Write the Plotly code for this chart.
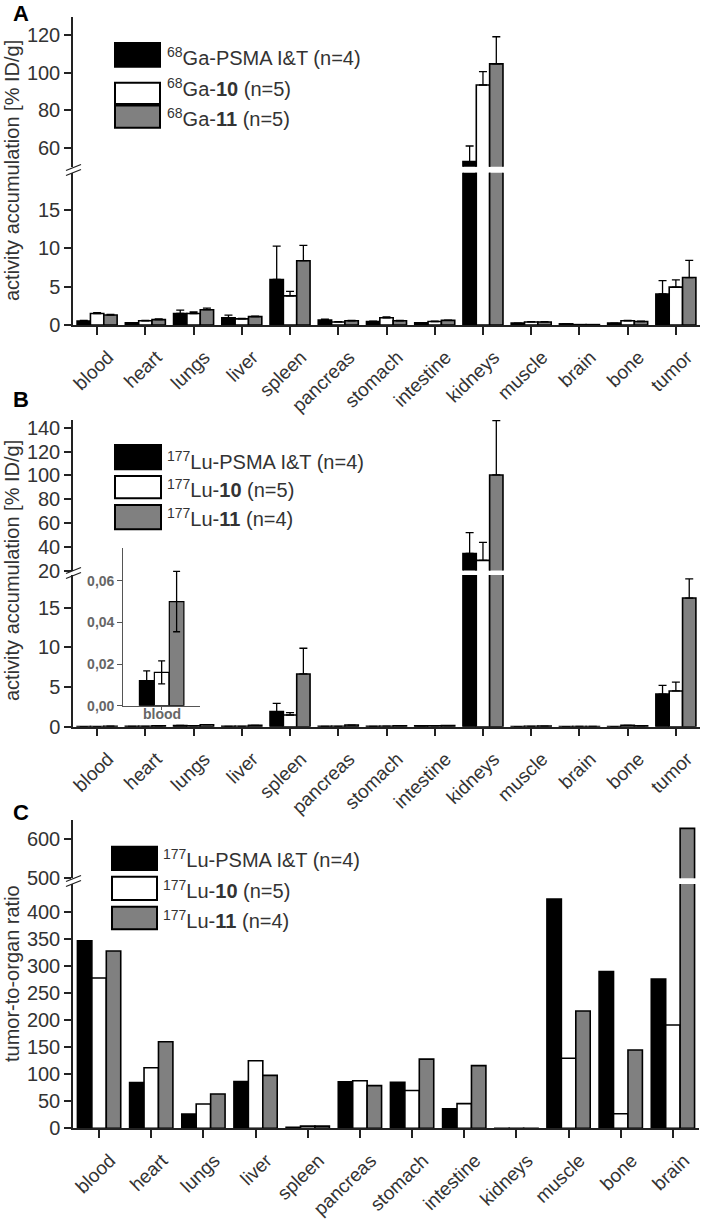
import plotly.graph_objects as go

W, H = 709, 1219
def xp(px): return px / W
def yp(py): return 1 - py / H

# ---------------- data ----------------
organs_ab = ["blood", "heart", "lungs", "liver", "spleen", "pancreas", "stomach",
             "intestine", "kidneys", "muscle", "brain", "bone", "tumor"]
organs_c = ["blood", "heart", "lungs", "liver", "spleen", "pancreas", "stomach",
            "intestine", "kidneys", "muscle", "bone", "brain"]

# Panel A: 68Ga, %ID/g
ga_psma = [0.5, 0.3, 1.5, 0.95, 5.95, 0.65, 0.45, 0.3, 52.7, 0.25, 0.15, 0.25, 4.05]
ga_psma_err = [0.1, 0.0, 0.45, 0.35, 4.35, 0.1, 0.05, 0.0, 8.3, 0.0, 0.0, 0.0, 1.75]
ga_10 = [1.5, 0.55, 1.5, 0.8, 3.8, 0.4, 0.95, 0.45, 93.4, 0.4, 0.05, 0.55, 4.95]
ga_10_err = [0.1, 0.05, 0.2, 0.05, 0.6, 0.05, 0.1, 0.05, 7.1, 0.05, 0.0, 0.05, 0.95]
ga_11 = [1.3, 0.7, 2.0, 1.1, 8.4, 0.55, 0.55, 0.6, 104.6, 0.4, 0.05, 0.45, 6.2]
ga_11_err = [0.1, 0.1, 0.2, 0.05, 2.0, 0.05, 0.05, 0.05, 14.4, 0.05, 0.0, 0.05, 2.25]

# Panel B: 177Lu, %ID/g
lu_psma = [0.012, 0.048, 0.155, 0.047, 1.9, 0.048, 0.048, 0.114, 34.3, 0.0097, 0.015, 0.014, 4.1]
lu_psma_err = [0.005, 0.0, 0.0, 0.0, 1.04, 0.0, 0.0, 0.0, 17.6, 0.0, 0.0, 0.0, 1.1]
lu_10 = [0.016, 0.04, 0.1, 0.036, 1.47, 0.051, 0.064, 0.098, 28.5, 0.035, 0.024, 0.167, 4.5]
lu_10_err = [0.005, 0.0, 0.0, 0.0, 0.3, 0.0, 0.0, 0.0, 15.2, 0.0, 0.0, 0.0, 1.1]
lu_11 = [0.05, 0.1, 0.25, 0.165, 6.64, 0.205, 0.127, 0.14, 100.3, 0.075, 0.026, 0.11, 16.2]
lu_11_err = [0.015, 0.0, 0.0, 0.0, 3.24, 0.0, 0.0, 0.0, 45.7, 0.0, 0.0, 0.0, 2.4]

# Inset (blood, 177Lu) symmetric SD
inset_cat = ["blood"]
inset_psma, inset_psma_err = [0.012], [0.0047]
inset_10, inset_10_err = [0.016], [0.0055]
inset_11, inset_11_err = [0.050], [0.0145]

# Panel C: tumor-to-organ ratio
ratio_psma = [347, 84.6, 26.5, 86.4, 2, 86, 85, 36, 0.12, 424, 290, 276]
ratio_10 = [278, 112, 45, 125, 4, 88, 70, 45.7, 0.16, 129.6, 27, 191]
ratio_11 = [328, 160, 63.6, 98, 4, 79, 128, 116, 0.16, 217, 145, 628]

legend_a = ["<sup>68</sup>Ga-PSMA I&amp;T (n=4)", "<sup>68</sup>Ga-<b>10</b> (n=5)",
            "<sup>68</sup>Ga-<b>11</b> (n=5)"]
legend_b = ["<sup>177</sup>Lu-PSMA I&amp;T (n=4)", "<sup>177</sup>Lu-<b>10</b> (n=5)",
            "<sup>177</sup>Lu-<b>11</b> (n=4)"]
legend_c = ["<sup>177</sup>Lu-PSMA I&amp;T (n=4)", "<sup>177</sup>Lu-<b>10</b> (n=5)",
            "<sup>177</sup>Lu-<b>11</b> (n=4)"]

COLORS = ["black", "white", "#808080"]
FONT = "Liberation Sans, Arial, sans-serif"
AXC = "#222222"
TXC = "#333333"

fig = go.Figure()

def add_bars(xa, ya, cats, vals, errs, color, lw=1.6, sym=False, **kw):
    ey = None
    if errs is not None:
        if sym:
            ey = dict(type="data", array=errs, symmetric=True, color="black",
                      thickness=1.3, width=3.5)
        else:
            ey = dict(type="data", array=errs, arrayminus=[0] * len(errs),
                      symmetric=False, color="black", thickness=1.3, width=4)
    fig.add_trace(go.Bar(x=cats, y=vals, xaxis=xa, yaxis=ya,
                         marker=dict(color=color, line=dict(color="black", width=lw)),
                         error_y=ey, showlegend=False, hoverinfo="skip", **kw))

# Panel A (lower + upper)
for ya in ["y", "y2"]:
    add_bars("x", ya, organs_ab, ga_psma, ga_psma_err, COLORS[0])
    add_bars("x", ya, organs_ab, ga_10, ga_10_err, COLORS[1])
    add_bars("x", ya, organs_ab, ga_11, ga_11_err, COLORS[2])
# Panel B
for ya in ["y3", "y4"]:
    add_bars("x2", ya, organs_ab, lu_psma, lu_psma_err, COLORS[0])
    add_bars("x2", ya, organs_ab, lu_10, lu_10_err, COLORS[1])
    add_bars("x2", ya, organs_ab, lu_11, lu_11_err, COLORS[2])
# Inset
add_bars("x3", "y5", inset_cat, inset_psma, inset_psma_err, COLORS[0], lw=1.2, sym=True,
         offset=-0.29, width=0.19)
add_bars("x3", "y5", inset_cat, inset_10, inset_10_err, COLORS[1], lw=1.2, sym=True,
         offset=-0.095, width=0.19)
add_bars("x3", "y5", inset_cat, inset_11, inset_11_err, COLORS[2], lw=1.2, sym=True,
         offset=0.1, width=0.19)
# Panel C
for ya in ["y6", "y7"]:
    add_bars("x4", ya, organs_c, ratio_psma, None, COLORS[0])
    add_bars("x4", ya, organs_c, ratio_10, None, COLORS[1])
    add_bars("x4", ya, organs_c, ratio_11, None, COLORS[2])

def yax(domain_px, rng, anchor, tickvals):
    return dict(domain=[yp(domain_px[0]), yp(domain_px[1])], range=rng, anchor=anchor,
                showline=True, linecolor=AXC, linewidth=1.5, ticks="outside",
                ticklen=7, tickwidth=1.5, tickcolor=AXC, tickvals=tickvals,
                tickfont=dict(family=FONT, size=20, color=TXC), showgrid=False,
                zeroline=False, fixedrange=True, automargin=False)

def xax(domain_px, rng, anchor):
    return dict(domain=[xp(domain_px[0]), xp(domain_px[1])], range=rng, anchor=anchor,
                showline=True, linecolor=AXC, linewidth=1.5, ticks="outside",
                ticklen=8, tickwidth=1.5, tickcolor=AXC, tickangle=-44,
                ticklabelstandoff=4, ticklabelshift=11, ticklabeloverflow="allow",
                tickfont=dict(family=FONT, size=19, color=TXC), showgrid=False,
                zeroline=False, fixedrange=True, automargin=False)

fig.update_layout(
    width=W, height=H, margin=dict(l=0, r=0, t=0, b=0, pad=0, autoexpand=False),
    paper_bgcolor="white", plot_bgcolor="rgba(0,0,0,0)",
    barmode="group", bargap=0.17, bargroupgap=0, showlegend=False,
    xaxis=xax((73, 700), [-0.5, 12.5], "y"),
    yaxis=yax((325, 172.7), [0, 19.9], "x", [0, 5, 10, 15]),
    yaxis2=yax((166.7, 17), [50, 129.5], "x", [60, 80, 100, 120]),
    xaxis2=xax((73, 700), [-0.5, 12.5], "y3"),
    yaxis3=yax((726.7, 575), [0, 19.1], "x2", [0, 5, 10, 15]),
    yaxis4=yax((570.5, 420), [20, 146.5], "x2", [20, 40, 60, 80, 100, 120, 140]),
    xaxis4=xax((73, 699), [-0.5, 11.5], "y6"),
    yaxis6=yax((1128.3, 884), [0, 452], "x4", [0, 50, 100, 150, 200, 250, 300, 350, 400]),
    yaxis7=yax((878.3, 820), [500, 649.5], "x4", [500, 600]),
    xaxis3=dict(domain=[xp(123.3), xp(200)], range=[-0.5, 0.5], anchor="y5",
                showline=True, linecolor="#555", linewidth=1.3, ticks="outside",
                ticklen=3, tickcolor="#555", tickvals=["blood"], showticklabels=False,
                showgrid=False, zeroline=False, fixedrange=True, automargin=False),
    yaxis5=dict(domain=[yp(705.7), yp(548)], range=[0, 0.0757], anchor="x3",
                showline=True, linecolor="#555", linewidth=1.3, ticks="outside",
                ticklen=5, tickcolor="#555", tickvals=[0, 0.02, 0.04, 0.06],
                ticktext=["<b>0,00</b>", "<b>0,02</b>", "<b>0,04</b>", "<b>0,06</b>"],
                tickfont=dict(family=FONT, size=14, color="#666"),
                showgrid=False, zeroline=False, fixedrange=True, automargin=False),
)

shapes = []
annotations = []

def legend(boxes, texts, text_ys, tx, box_x):
    for (y0, y1), col, t, ty in zip(boxes, COLORS, texts, text_ys):
        shapes.append(dict(type="rect", xref="paper", yref="paper",
                           x0=xp(box_x[0]), x1=xp(box_x[1]), y0=yp(y1), y1=yp(y0),
                           fillcolor=col, line=dict(color="black", width=2)))
        annotations.append(dict(xref="paper", yref="paper", x=xp(tx), y=yp(ty),
                                xanchor="left", yanchor="middle", showarrow=False,
                                text=t, font=dict(family=FONT, size=20, color=TXC)))

legend([(43, 66.7), (82.7, 104), (105.5, 127.7)], legend_a, [57, 88, 117], 165, (115, 160))
legend([(445, 469.3), (476, 498.3), (505, 529.3)], legend_b, [460, 488, 517], 165, (115, 161))
legend([(846.7, 870), (876.7, 900), (906.7, 929.3)], legend_c, [858, 889, 919], 161, (112, 157))

def brk(yc):
    for dy in (-2.5, 2.5):
        shapes.append(dict(type="line", xref="paper", yref="paper",
                           x0=xp(66), x1=xp(81), y0=yp(yc + dy + 3), y1=yp(yc + dy - 3),
                           line=dict(color=AXC, width=1.3)))

brk(170)
brk(573)
brk(881)

for letter, (lx, ly) in zip(["A", "B", "C"], [(21, 13), (21, 400), (21, 812)]):
    annotations.append(dict(xref="paper", yref="paper", x=xp(lx), y=yp(ly), showarrow=False,
                            xanchor="center", yanchor="middle",
                            text=f"<b>{letter}</b>", font=dict(family=FONT, size=22, color="black")))

for t, (tx, ty) in zip(["activity accumulation [% ID/g]", "activity accumulation [% ID/g]",
                        "tumor-to-organ ratio"], [(12, 171), (12, 571), (12, 974)]):
    annotations.append(dict(xref="paper", yref="paper", x=xp(tx), y=yp(ty), showarrow=False,
                            xanchor="center", yanchor="middle",
                            textangle=-90, text=t, font=dict(family=FONT, size=20, color=TXC)))

# inset category label
annotations.append(dict(xref="paper", yref="paper", x=xp(162), y=yp(714), showarrow=False,
                        xanchor="center", yanchor="middle", text="<b>blood</b>",
                        font=dict(family=FONT, size=14, color="#666")))

fig.update_layout(shapes=shapes, annotations=annotations)
fig.write_html("out.html", config={"displayModeBar": False},
               post_script="document.body.style.margin='0px';")
